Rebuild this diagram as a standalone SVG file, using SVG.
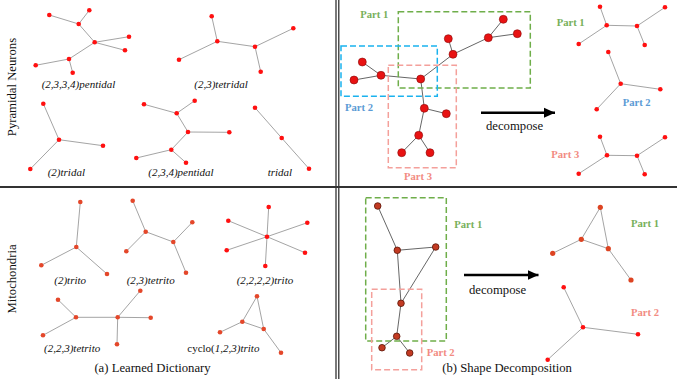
<svg xmlns="http://www.w3.org/2000/svg" width="677" height="379" viewBox="0 0 677 379">
<style>
.e{stroke:#9a9a9a;stroke-width:0.9;fill:none}
.eb{stroke:#555;stroke-width:0.9;fill:none}
.r{fill:#ff1010}
.o{fill:#e4472a}
.big{fill:#e81212;stroke:#8a0a0a;stroke-width:0.6}
.brn{fill:#c23a22;stroke:#5a1508;stroke-width:0.8}
.lab{font-family:"Liberation Serif",serif;font-style:italic;font-size:11px;fill:#111}
.cap{font-family:"Liberation Serif",serif;font-size:12.7px;fill:#111}
.pt{font-family:"Liberation Serif",serif;font-weight:bold;font-size:10.6px}
.g{fill:#77b05a}.b{fill:#5b9bd5}.p{fill:#f28b82}
.box{fill:none;stroke-width:1.5;stroke-dasharray:6,3}
.arr{stroke:#000;stroke-width:2.5;fill:none}
</style>
<defs>
<marker id="ah" markerUnits="userSpaceOnUse" markerWidth="12" markerHeight="12" refX="11" refY="6" orient="auto">
<path d="M0,1 L11,6 L0,11 Z" fill="#000"/>
</marker>
</defs>
<rect width="677" height="379" fill="#fff"/>
<g id="frame">
<line x1="336" y1="0" x2="336" y2="379" stroke="#222" stroke-width="1.2"/>
<line x1="338.8" y1="0" x2="338.8" y2="379" stroke="#222" stroke-width="1.2"/>
<line x1="0" y1="187" x2="677" y2="187" stroke="#333" stroke-width="2"/>
</g>
<text class="cap" transform="translate(16,87) rotate(-90)" text-anchor="middle">Pyramidal Neurons</text>
<text class="cap" transform="translate(16,279) rotate(-90)" text-anchor="middle">Mitochondria</text>

<g id="connectors">
<!-- pentidal 2,3,3,4 -->
<path class="e" d="M49.3,15L78.7,24L89.3,10.3M78.7,24L94.7,42.3L129,36.7M94.7,42.3L125,50.3M94.7,42.3L69,59L35.7,65.3M69,59L72.7,72.7"/>
<!-- tetridal -->
<path class="e" d="M211.7,16.3L217.3,41.3L179,59.7M217.3,41.3L255,46.7L293.3,28.3M255,46.7L260.7,71.7"/>
<!-- tridal 2 -->
<path class="e" d="M43.3,103.7L59,139.7L103,145.7M59,139.7L30.3,169"/>
<!-- pentidal 2,3,4 -->
<path class="e" d="M144,104.3L176.7,113.3L194.7,100.7M176.7,113.3L188,132L229.3,132.3M188,132L171.3,149.7L136.3,158M171.3,149.7L186,162.7"/>
<!-- tridal -->
<path class="e" d="M255,107.7L281.7,138L309,168.7"/>
<!-- trito 2 -->
<path class="e" d="M80.3,202L76.3,247L41.3,265.3M76.3,247L107,274"/>
<!-- tetrito 2,3 -->
<path class="e" d="M132.7,200.7L145.7,231.7L126.3,251.3M145.7,231.7L173.3,242L192.3,222.3M173.3,242L186,272.7"/>
<!-- trito 2,2,2,2 -->
<path class="e" d="M267,236.7L268.7,207M267,236.7L228.3,220.7M267,236.7L307.3,222.7M267,236.7L226.7,250.3M267,236.7L305,252.7M267,236.7L265.3,266"/>
<!-- tetrito 2,2,3 -->
<path class="e" d="M58,299.7L76,317.3L43,335.3M76,317.3L117.7,317.3L140.3,290.7M117.7,317.3L150.7,317.7M117.7,317.3L117,344.3"/>
<!-- cyclo -->
<path class="e" d="M257,296.3L242.3,321.7L263.7,329L257,296.3M242.3,321.7L220,332.3M263.7,329L281,352.7"/>
<!-- big top-right -->
<path class="eb" d="M503.3,19.3L488.3,37.7L517.3,33.7M488.3,37.7L453,54.3L448.3,38.7M453,54.3L420.7,79L381,75.3L362.3,62M381,75.3L354,80M420.7,79L424.3,108.3L446.3,113.7M424.3,108.3L418.7,135.3L401.7,152.7M418.7,135.3L430,152.7"/>
<!-- parts top -->
<path class="e" d="M600,6.7L606.7,25.3L578.7,44M606.7,25.3L637,26L665,7.3M637,26L644.7,45"/>
<path class="e" d="M608.3,52L620.7,83.7L660.3,89.3M620.7,83.7L596.7,109.3"/>
<path class="e" d="M600,136.7L607,155.3L578.7,173.7M607,155.3L637,155.7L665,137.3M637,155.7L644.7,174.3"/>
<!-- bottom right main -->
<path class="eb" d="M377.7,206L397.3,250.3L435.7,247L401,303.3L397.3,250.3M401,303.3L396.7,336.3L382,347.7M396.7,336.3L409.7,353"/>
<!-- bottom parts -->
<path class="e" d="M600.3,207.3L581.3,239.3L608.3,248.7L600.3,207.3M581.3,239.3L552.7,253.3M608.3,248.7L631,280"/>
<path class="e" d="M563.7,287.3L583,327.3L638,334.3M583,327.3L547.7,359.7"/>
<!-- arrows -->
<line class="arr" x1="481" y1="112.7" x2="555" y2="112.7" marker-end="url(#ah)"/>
<line class="arr" x1="464" y1="275" x2="538.5" y2="275" marker-end="url(#ah)"/>
</g>

<g id="pentidal2334" class="r">
<circle cx="49.3" cy="15" r="2.3"/><circle cx="89.3" cy="10.3" r="2.3"/><circle cx="78.7" cy="24" r="2.3"/><circle cx="94.7" cy="42.3" r="2.3"/><circle cx="129" cy="36.7" r="2.3"/><circle cx="125" cy="50.3" r="2.3"/><circle cx="69" cy="59" r="2.3"/><circle cx="35.7" cy="65.3" r="2.3"/><circle cx="72.7" cy="72.7" r="2.3"/>
</g>
<g id="tetridal23" class="r">
<circle cx="211.7" cy="16.3" r="2.3"/><circle cx="217.3" cy="41.3" r="2.3"/><circle cx="179" cy="59.7" r="2.3"/><circle cx="255" cy="46.7" r="2.3"/><circle cx="293.3" cy="28.3" r="2.3"/><circle cx="260.7" cy="71.7" r="2.3"/>
</g>
<g id="tridal2" class="r">
<circle cx="43.3" cy="103.7" r="2.3"/><circle cx="59" cy="139.7" r="2.3"/><circle cx="103" cy="145.7" r="2.3"/><circle cx="30.3" cy="169" r="2.3"/>
</g>
<g id="pentidal234" class="r">
<circle cx="144" cy="104.3" r="2.3"/><circle cx="176.7" cy="113.3" r="2.3"/><circle cx="194.7" cy="100.7" r="2.3"/><circle cx="188" cy="132" r="2.3"/><circle cx="229.3" cy="132.3" r="2.3"/><circle cx="171.3" cy="149.7" r="2.3"/><circle cx="136.3" cy="158" r="2.3"/><circle cx="186" cy="162.7" r="2.3"/>
</g>
<g id="tridal" class="r">
<circle cx="255" cy="107.7" r="2.3"/><circle cx="281.7" cy="138" r="2.3"/><circle cx="309" cy="168.7" r="2.3"/>
</g>
<g id="trito2" class="o">
<circle cx="80.3" cy="202" r="2.3"/><circle cx="76.3" cy="247" r="2.3"/><circle cx="41.3" cy="265.3" r="2.3"/><circle cx="107" cy="274" r="2.3"/>
</g>
<g id="tetrito23" class="o">
<circle cx="132.7" cy="200.7" r="2.3"/><circle cx="145.7" cy="231.7" r="2.3"/><circle cx="126.3" cy="251.3" r="2.3"/><circle cx="173.3" cy="242" r="2.3"/><circle cx="192.3" cy="222.3" r="2.3"/><circle cx="186" cy="272.7" r="2.3"/>
</g>
<g id="trito2222" class="r">
<circle cx="267" cy="236.7" r="2.3"/><circle cx="268.7" cy="207" r="2.3"/><circle cx="228.3" cy="220.7" r="2.3"/><circle cx="307.3" cy="222.7" r="2.3"/><circle cx="226.7" cy="250.3" r="2.3"/><circle cx="305" cy="252.7" r="2.3"/><circle cx="265.3" cy="266" r="2.3"/>
</g>
<g id="tetrito223" class="o">
<circle cx="58" cy="299.7" r="2.3"/><circle cx="76" cy="317.3" r="2.3"/><circle cx="43" cy="335.3" r="2.3"/><circle cx="117.7" cy="317.3" r="2.3"/><circle cx="140.3" cy="290.7" r="2.3"/><circle cx="150.7" cy="317.7" r="2.3"/><circle cx="117" cy="344.3" r="2.3"/>
</g>
<g id="cyclo123" class="o">
<circle cx="257" cy="296.3" r="2.3"/><circle cx="242.3" cy="321.7" r="2.3"/><circle cx="220" cy="332.3" r="2.3"/><circle cx="263.7" cy="329" r="2.3"/><circle cx="281" cy="352.7" r="2.3"/>
</g>

<g id="labels-a">
<text class="lab" x="41.7" y="87.5">(2,3,3,4)pentidal</text>
<text class="lab" x="194.3" y="87.5">(2,3)tetridal</text>
<text class="lab" x="47.7" y="176">(2)tridal</text>
<text class="lab" x="148.3" y="176">(2,3,4)pentidal</text>
<text class="lab" x="267.7" y="176">tridal</text>
<text class="lab" x="54.3" y="283.5">(2)trito</text>
<text class="lab" x="126.7" y="283.5">(2,3)tetrito</text>
<text class="lab" x="236.7" y="283.5">(2,2,2,2)trito</text>
<text class="lab" x="44" y="352.3">(2,2,3)tetrito</text>
<text class="lab" x="187.3" y="352.3"><tspan font-style="normal">cyclo(</tspan>1,2,3)trito</text>
<text class="cap" x="152.5" y="372.3" text-anchor="middle">(a) Learned Dictionary</text>
</g>

<g id="boxes-top">
<rect class="box" x="398.3" y="11.7" width="132" height="76.3" stroke="#6fae4a"/>
<rect class="box" x="341" y="46" width="96.3" height="50.3" stroke="#1ab2ee"/>
<rect class="box" x="388.3" y="65.3" width="68" height="102.4" stroke="#f4a09b"/>
</g>
<g id="bigtree">
<circle class="big" cx="503.3" cy="19.3" r="4"/><circle class="big" cx="517.3" cy="33.7" r="4"/><circle class="big" cx="488.3" cy="37.7" r="4"/><circle class="big" cx="448.3" cy="38.7" r="4"/><circle class="big" cx="453" cy="54.3" r="4"/><circle class="big" cx="420.7" cy="79" r="4"/><circle class="big" cx="362.3" cy="62" r="4"/><circle class="big" cx="381" cy="75.3" r="4"/><circle class="big" cx="354" cy="80" r="4"/><circle class="big" cx="424.3" cy="108.3" r="4"/><circle class="big" cx="446.3" cy="113.7" r="4"/><circle class="big" cx="418.7" cy="135.3" r="4"/><circle class="big" cx="401.7" cy="152.7" r="4"/><circle class="big" cx="430" cy="152.7" r="4"/>
</g>
<g id="part1-top" class="r">
<circle cx="600" cy="6.7" r="2.3"/><circle cx="606.7" cy="25.3" r="2.3"/><circle cx="578.7" cy="44" r="2.3"/><circle cx="637" cy="26" r="2.3"/><circle cx="665" cy="7.3" r="2.3"/><circle cx="644.7" cy="45" r="2.3"/>
</g>
<g id="part2-top" class="r">
<circle cx="608.3" cy="52" r="2.3"/><circle cx="620.7" cy="83.7" r="2.3"/><circle cx="660.3" cy="89.3" r="2.3"/><circle cx="596.7" cy="109.3" r="2.3"/>
</g>
<g id="part3-top" class="r">
<circle cx="600" cy="136.7" r="2.3"/><circle cx="607" cy="155.3" r="2.3"/><circle cx="578.7" cy="173.7" r="2.3"/><circle cx="637" cy="155.7" r="2.3"/><circle cx="665" cy="137.3" r="2.3"/><circle cx="644.7" cy="174.3" r="2.3"/>
</g>
<g id="labels-top">
<text class="pt g" x="360.3" y="18.3">Part 1</text>
<text class="pt b" x="345" y="111">Part 2</text>
<text class="pt p" x="404" y="180.3">Part 3</text>
<text class="cap" x="486" y="130">decompose</text>
<text class="pt g" x="556.7" y="25.7">Part 1</text>
<text class="pt b" x="622.7" y="106">Part 2</text>
<text class="pt p" x="551.3" y="158.3">Part 3</text>
</g>

<g id="boxes-bottom">
<rect class="box" x="365.7" y="197.7" width="80.6" height="143.3" stroke="#6fae4a"/>
<rect class="box" x="371.7" y="289.3" width="50" height="80.4" stroke="#f4a09b"/>
</g>
<g id="mito-tree">
<circle class="brn" cx="377.7" cy="206" r="3.3"/><circle class="brn" cx="397.3" cy="250.3" r="3.3"/><circle class="brn" cx="435.7" cy="247" r="3.3"/><circle class="brn" cx="401" cy="303.3" r="3.3"/><circle class="brn" cx="396.7" cy="336.3" r="3.3"/><circle class="brn" cx="382" cy="347.7" r="3.3"/><circle class="brn" cx="409.7" cy="353" r="3.3"/>
</g>
<g id="part1-bottom" fill="#dd4422">
<circle cx="600.3" cy="207.3" r="2.6"/><circle cx="581.3" cy="239.3" r="2.6"/><circle cx="552.7" cy="253.3" r="2.6"/><circle cx="608.3" cy="248.7" r="2.6"/><circle cx="631" cy="280" r="2.6"/>
</g>
<g id="part2-bottom" class="r">
<circle cx="563.7" cy="287.3" r="2.3"/><circle cx="583" cy="327.3" r="2.3"/><circle cx="638" cy="334.3" r="2.3"/><circle cx="547.7" cy="359.7" r="2.3"/>
</g>
<g id="labels-bottom">
<text class="pt g" x="454.3" y="228.3">Part 1</text>
<text class="pt p" x="426.7" y="356">Part 2</text>
<text class="cap" x="469" y="294.3">decompose</text>
<text class="pt g" x="631" y="226.7">Part 1</text>
<text class="pt p" x="631" y="316.3">Part 2</text>
<text class="cap" x="442.3" y="371.7">(b) Shape Decomposition</text>
</g>
</svg>
